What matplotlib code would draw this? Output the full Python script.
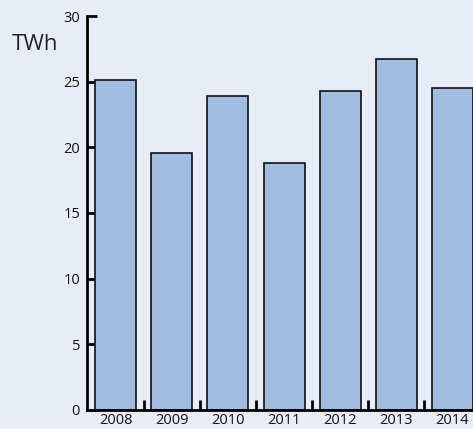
import matplotlib
matplotlib.use("Agg")
import matplotlib.pyplot as plt
from matplotlib.ticker import FixedLocator

plt.rcParams['font.family'] = ['Open Sans', 'DejaVu Sans']

# Données
years = ["2008", "2009", "2010", "2011", "2012", "2013", "2014"]
twh = [25.1, 19.6, 23.9, 18.8, 24.3, 26.7, 24.5]

bg = "#e8ecf7"
fig = plt.figure(figsize=(4.73, 4.29), dpi=100, facecolor=bg)
ax = fig.add_axes([0.184, 0.0443, 0.816, 0.9184])
ax.set_facecolor(bg)

x = list(range(len(years)))
ax.bar(x, twh, width=0.73, color="#a0bce0", edgecolor="#111111", linewidth=1.2, zorder=2)

ax.set_xlim(-0.507, 6.365)
ax.set_ylim(0, 30)

for s in ["top", "right"]:
    ax.spines[s].set_visible(False)
for s in ["left", "bottom"]:
    ax.spines[s].set_linewidth(2)
    ax.spines[s].set_zorder(3)

ax.set_yticks([0, 5, 10, 15, 20, 25, 30])
ax.tick_params(axis="y", direction="in", length=7, width=2, labelsize=10.5, pad=5, labelcolor="#111111")

ax.set_xticks(x)
ax.set_xticklabels(years)
ax.xaxis.set_minor_locator(FixedLocator([i + 0.5 for i in range(len(years) - 1)]))
ax.tick_params(axis="x", which="major", length=0, labelsize=10.5, pad=2, labelcolor="#111111")
ax.tick_params(axis="x", which="minor", direction="in", length=7.5, width=2)

fig.text(12 / 473, 1 - 44 / 429, "TWh", fontsize=16, va="center", ha="left", color="#222222")

fig.savefig("out.png", dpi=100, facecolor=bg)
